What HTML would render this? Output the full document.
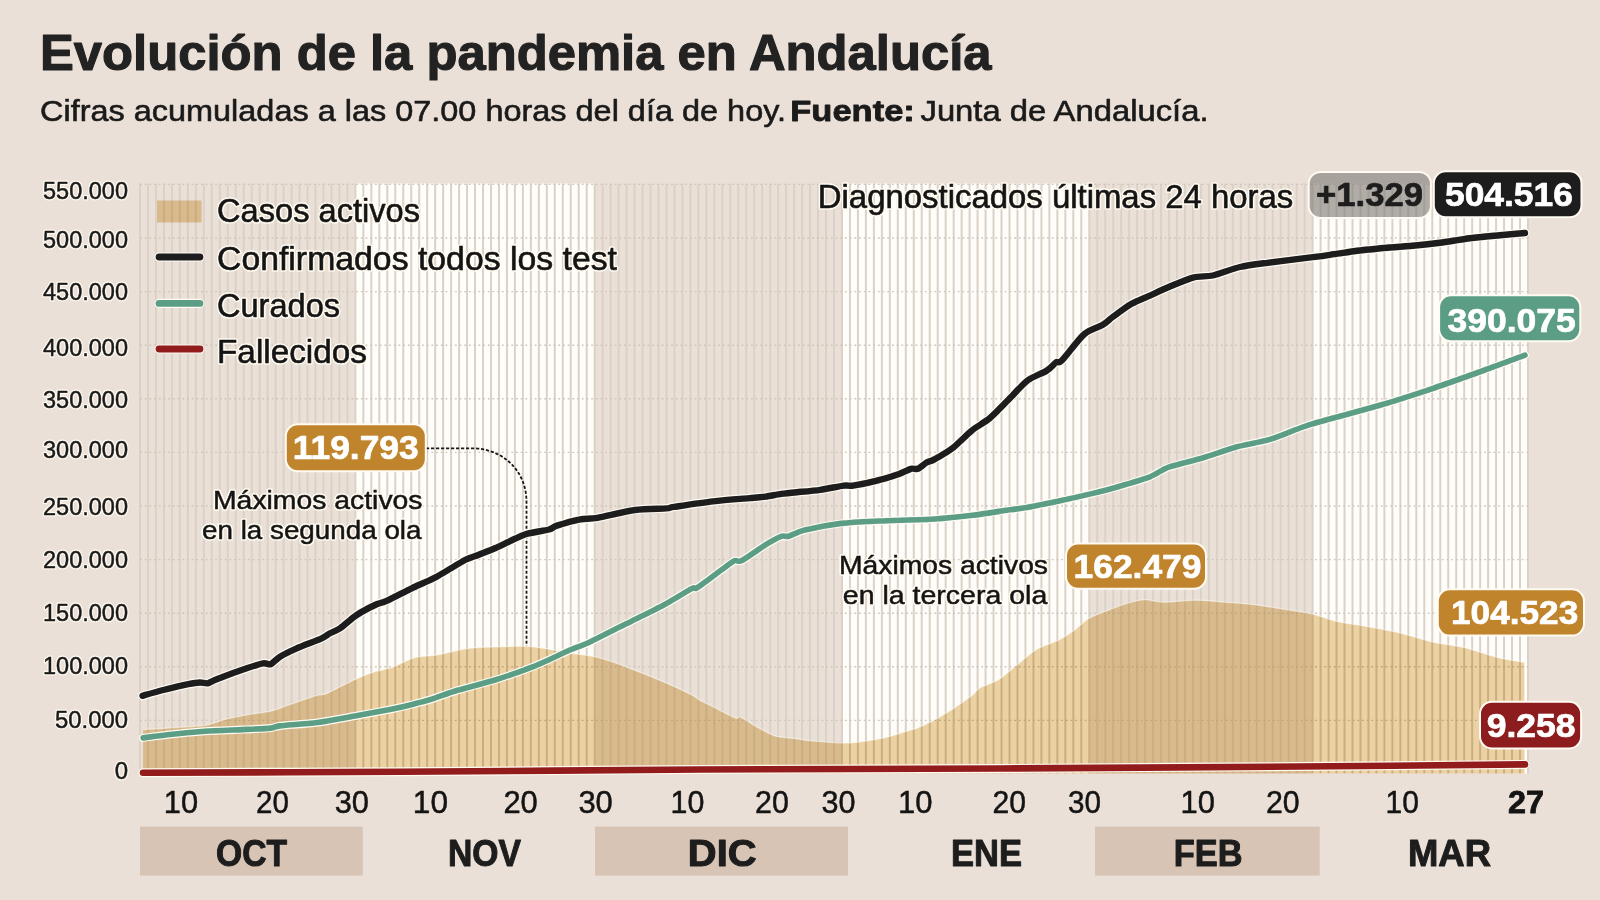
<!DOCTYPE html><html><head><meta charset="utf-8"><style>html,body{margin:0;padding:0;background:#eae0d7;width:1600px;height:900px;overflow:hidden}svg{display:block}text{font-family:"Liberation Sans", sans-serif}</style></head><body>
<svg width="1600" height="900" viewBox="0 0 1600 900">
<rect width="1600" height="900" fill="#eae0d7"/>
<text x="40.0" y="70.3" font-size="50.0" font-weight="bold" text-anchor="start" textLength="951.5" lengthAdjust="spacingAndGlyphs" fill="#222" stroke="#222" stroke-width="1.10" stroke-linejoin="round" >Evolución de la pandemia en Andalucía</text>
<text x="40.0" y="121.3" font-size="30.0" font-weight="normal" text-anchor="start" textLength="746.0" lengthAdjust="spacingAndGlyphs" fill="#1a1a1a" stroke="#1a1a1a" stroke-width="0.60" stroke-linejoin="round" >Cifras acumuladas a las 07.00 horas del día de hoy.</text>
<text x="790.3" y="121.3" font-size="30.0" font-weight="bold" text-anchor="start" textLength="124.5" lengthAdjust="spacingAndGlyphs" fill="#1a1a1a" stroke="#1a1a1a" stroke-width="0.80" stroke-linejoin="round" >Fuente:</text>
<text x="920.5" y="121.3" font-size="30.0" font-weight="normal" text-anchor="start" textLength="288.0" lengthAdjust="spacingAndGlyphs" fill="#1a1a1a" stroke="#1a1a1a" stroke-width="0.60" stroke-linejoin="round" >Junta de Andalucía.</text>
<rect x="140.0" y="183.5" width="1388.0" height="590.0" fill="#eae0d7"/>
<rect x="355.4" y="183.5" width="239.3" height="590.0" fill="#fefdf9"/>
<rect x="842.0" y="183.5" width="247.3" height="590.0" fill="#fefdf9"/>
<rect x="1312.6" y="183.5" width="215.4" height="590.0" fill="#fefdf9"/>
<path d="M140.00 183.5V773.5M147.98 183.5V773.5M155.95 183.5V773.5M163.93 183.5V773.5M171.91 183.5V773.5M179.89 183.5V773.5M187.86 183.5V773.5M195.84 183.5V773.5M203.82 183.5V773.5M211.79 183.5V773.5M219.77 183.5V773.5M227.75 183.5V773.5M235.72 183.5V773.5M243.70 183.5V773.5M251.68 183.5V773.5M259.66 183.5V773.5M267.63 183.5V773.5M275.61 183.5V773.5M283.59 183.5V773.5M291.56 183.5V773.5M299.54 183.5V773.5M307.52 183.5V773.5M315.49 183.5V773.5M323.47 183.5V773.5M331.45 183.5V773.5M339.43 183.5V773.5M347.40 183.5V773.5M355.38 183.5V773.5M363.36 183.5V773.5M371.33 183.5V773.5M379.31 183.5V773.5M387.29 183.5V773.5M395.26 183.5V773.5M403.24 183.5V773.5M411.22 183.5V773.5M419.20 183.5V773.5M427.17 183.5V773.5M435.15 183.5V773.5M443.13 183.5V773.5M451.10 183.5V773.5M459.08 183.5V773.5M467.06 183.5V773.5M475.03 183.5V773.5M483.01 183.5V773.5M490.99 183.5V773.5M498.97 183.5V773.5M506.94 183.5V773.5M514.92 183.5V773.5M522.90 183.5V773.5M530.87 183.5V773.5M538.85 183.5V773.5M546.83 183.5V773.5M554.80 183.5V773.5M562.78 183.5V773.5M570.76 183.5V773.5M578.74 183.5V773.5M586.71 183.5V773.5M594.69 183.5V773.5M602.67 183.5V773.5M610.64 183.5V773.5M618.62 183.5V773.5M626.60 183.5V773.5M634.57 183.5V773.5M642.55 183.5V773.5M650.53 183.5V773.5M658.51 183.5V773.5M666.48 183.5V773.5M674.46 183.5V773.5M682.44 183.5V773.5M690.41 183.5V773.5M698.39 183.5V773.5M706.37 183.5V773.5M714.34 183.5V773.5M722.32 183.5V773.5M730.30 183.5V773.5M738.28 183.5V773.5M746.25 183.5V773.5M754.23 183.5V773.5M762.21 183.5V773.5M770.18 183.5V773.5M778.16 183.5V773.5M786.14 183.5V773.5M794.11 183.5V773.5M802.09 183.5V773.5M810.07 183.5V773.5M818.05 183.5V773.5M826.02 183.5V773.5M834.00 183.5V773.5M841.98 183.5V773.5M849.95 183.5V773.5M857.93 183.5V773.5M865.91 183.5V773.5M873.89 183.5V773.5M881.86 183.5V773.5M889.84 183.5V773.5M897.82 183.5V773.5M905.79 183.5V773.5M913.77 183.5V773.5M921.75 183.5V773.5M929.72 183.5V773.5M937.70 183.5V773.5M945.68 183.5V773.5M953.66 183.5V773.5M961.63 183.5V773.5M969.61 183.5V773.5M977.59 183.5V773.5M985.56 183.5V773.5M993.54 183.5V773.5M1001.52 183.5V773.5M1009.49 183.5V773.5M1017.47 183.5V773.5M1025.45 183.5V773.5M1033.43 183.5V773.5M1041.40 183.5V773.5M1049.38 183.5V773.5M1057.36 183.5V773.5M1065.33 183.5V773.5M1073.31 183.5V773.5M1081.29 183.5V773.5M1089.26 183.5V773.5M1097.24 183.5V773.5M1105.22 183.5V773.5M1113.20 183.5V773.5M1121.17 183.5V773.5M1129.15 183.5V773.5M1137.13 183.5V773.5M1145.10 183.5V773.5M1153.08 183.5V773.5M1161.06 183.5V773.5M1169.03 183.5V773.5M1177.01 183.5V773.5M1184.99 183.5V773.5M1192.97 183.5V773.5M1200.94 183.5V773.5M1208.92 183.5V773.5M1216.90 183.5V773.5M1224.87 183.5V773.5M1232.85 183.5V773.5M1240.83 183.5V773.5M1248.80 183.5V773.5M1256.78 183.5V773.5M1264.76 183.5V773.5M1272.74 183.5V773.5M1280.71 183.5V773.5M1288.69 183.5V773.5M1296.67 183.5V773.5M1304.64 183.5V773.5M1312.62 183.5V773.5M1320.60 183.5V773.5M1328.57 183.5V773.5M1336.55 183.5V773.5M1344.53 183.5V773.5M1352.51 183.5V773.5M1360.48 183.5V773.5M1368.46 183.5V773.5M1376.44 183.5V773.5M1384.41 183.5V773.5M1392.39 183.5V773.5M1400.37 183.5V773.5M1408.34 183.5V773.5M1416.32 183.5V773.5M1424.30 183.5V773.5M1432.28 183.5V773.5M1440.25 183.5V773.5M1448.23 183.5V773.5M1456.21 183.5V773.5M1464.18 183.5V773.5M1472.16 183.5V773.5M1480.14 183.5V773.5M1488.11 183.5V773.5M1496.09 183.5V773.5M1504.07 183.5V773.5M1512.05 183.5V773.5M1520.02 183.5V773.5M1528.00 183.5V773.5" stroke="#dad2c7" stroke-width="2" fill="none"/>
<path d="M140.0 720.4H1528.0M140.0 666.8H1528.0M140.0 613.2H1528.0M140.0 559.6H1528.0M140.0 506.0H1528.0M140.0 452.4H1528.0M140.0 398.8H1528.0M140.0 345.2H1528.0M140.0 291.6H1528.0M140.0 238.0H1528.0M140.0 184.4H1528.0" stroke="#d0c6bb" stroke-width="1.4" stroke-dasharray="1.8 2.9" fill="none"/>
<path d="M143.1,729.6C146.4,729.4 159.2,728.7 167.5,728.1C175.8,727.5 197.5,726.4 205.0,725.3C212.5,724.2 217.5,721.2 223.8,719.7C230.0,718.2 245.7,715.1 251.9,714.0C258.1,712.9 265.6,712.5 270.6,711.2C275.6,710.0 283.1,706.8 289.4,704.7C295.7,702.6 312.5,696.8 317.5,695.3C322.5,693.8 321.9,695.5 326.9,693.4C331.9,691.3 348.8,682.3 355.0,679.4C361.2,676.5 368.8,673.5 373.8,671.9C378.8,670.3 387.5,669.0 392.5,667.2C397.5,665.4 407.6,660.2 411.2,658.8C414.9,657.3 416.3,657.1 420.0,656.6C423.7,656.1 432.0,655.8 438.8,654.7C445.5,653.6 459.8,649.2 470.6,648.1C481.4,647.0 510.6,646.4 519.4,646.2C528.2,646.1 528.8,646.2 536.2,647.2C543.7,648.2 567.4,652.4 575.6,653.8C583.8,655.1 591.3,655.7 598.1,657.5C604.9,659.3 617.5,663.6 626.2,666.9C635.0,670.2 655.0,678.2 663.8,681.9C672.5,685.6 687.1,692.5 691.9,695.0C696.7,697.5 696.9,698.6 700.0,700.3C703.1,702.0 710.3,705.4 715.0,707.8C719.7,710.2 732.3,716.9 735.6,718.1C738.9,719.3 738.1,716.4 739.4,716.6C740.7,716.8 742.8,718.3 745.0,719.6C747.2,720.9 752.2,724.4 756.2,726.6C760.2,728.8 770.0,734.3 775.0,735.9C780.0,737.5 788.8,737.7 793.8,738.4C798.8,739.1 807.5,740.5 812.5,741.0C817.5,741.5 826.2,742.2 831.2,742.5C836.2,742.8 845.0,743.2 850.0,742.9C855.0,742.6 863.8,741.4 868.8,740.6C873.8,739.8 882.5,738.1 887.5,736.9C892.5,735.7 902.2,732.5 906.2,731.2C910.2,730.0 913.7,729.4 917.5,727.9C921.3,726.4 929.7,722.6 934.4,720.0C939.1,717.4 948.1,712.0 953.1,708.8C958.1,705.5 968.3,698.4 971.9,695.6C975.5,692.8 976.4,690.0 980.0,687.8C983.6,685.6 993.8,682.5 998.8,679.4C1003.8,676.3 1012.5,668.4 1017.5,664.4C1022.5,660.4 1030.8,652.7 1036.2,649.4C1041.8,646.1 1053.8,642.5 1058.8,640.0C1063.8,637.5 1069.8,633.5 1073.8,630.6C1077.8,627.7 1083.8,621.3 1088.8,618.4C1093.8,615.5 1105.8,611.1 1111.2,609.0C1116.8,606.9 1125.5,603.7 1130.0,602.5C1134.5,601.3 1141.3,599.8 1145.0,599.7C1148.7,599.6 1155.1,601.3 1158.1,601.6C1161.1,601.9 1162.5,602.3 1167.5,602.1C1172.5,601.9 1188.1,600.2 1195.6,600.2C1203.1,600.2 1216.2,601.5 1223.8,602.1C1231.3,602.7 1245.7,603.7 1251.9,604.4C1258.1,605.1 1262.2,605.8 1270.0,607.0C1277.8,608.2 1301.9,611.7 1310.6,613.6C1319.3,615.5 1327.4,619.2 1335.0,620.9C1342.6,622.6 1358.8,625.0 1367.5,626.6C1376.2,628.2 1391.3,630.9 1400.0,633.0C1408.7,635.1 1423.8,640.0 1432.5,642.0C1441.2,644.0 1456.3,645.6 1465.0,647.7C1473.7,649.8 1489.6,655.5 1497.5,657.4C1505.4,659.3 1520.7,661.6 1524.3,662.3 L1524.5,773.5 L143.0,773.5 Z" fill="#edd4a6" style="mix-blend-mode:multiply"/>
<path d="M143.1,729.6C146.4,729.4 159.2,728.7 167.5,728.1C175.8,727.5 197.5,726.4 205.0,725.3C212.5,724.2 217.5,721.2 223.8,719.7C230.0,718.2 245.7,715.1 251.9,714.0C258.1,712.9 265.6,712.5 270.6,711.2C275.6,710.0 283.1,706.8 289.4,704.7C295.7,702.6 312.5,696.8 317.5,695.3C322.5,693.8 321.9,695.5 326.9,693.4C331.9,691.3 348.8,682.3 355.0,679.4C361.2,676.5 368.8,673.5 373.8,671.9C378.8,670.3 387.5,669.0 392.5,667.2C397.5,665.4 407.6,660.2 411.2,658.8C414.9,657.3 416.3,657.1 420.0,656.6C423.7,656.1 432.0,655.8 438.8,654.7C445.5,653.6 459.8,649.2 470.6,648.1C481.4,647.0 510.6,646.4 519.4,646.2C528.2,646.1 528.8,646.2 536.2,647.2C543.7,648.2 567.4,652.4 575.6,653.8C583.8,655.1 591.3,655.7 598.1,657.5C604.9,659.3 617.5,663.6 626.2,666.9C635.0,670.2 655.0,678.2 663.8,681.9C672.5,685.6 687.1,692.5 691.9,695.0C696.7,697.5 696.9,698.6 700.0,700.3C703.1,702.0 710.3,705.4 715.0,707.8C719.7,710.2 732.3,716.9 735.6,718.1C738.9,719.3 738.1,716.4 739.4,716.6C740.7,716.8 742.8,718.3 745.0,719.6C747.2,720.9 752.2,724.4 756.2,726.6C760.2,728.8 770.0,734.3 775.0,735.9C780.0,737.5 788.8,737.7 793.8,738.4C798.8,739.1 807.5,740.5 812.5,741.0C817.5,741.5 826.2,742.2 831.2,742.5C836.2,742.8 845.0,743.2 850.0,742.9C855.0,742.6 863.8,741.4 868.8,740.6C873.8,739.8 882.5,738.1 887.5,736.9C892.5,735.7 902.2,732.5 906.2,731.2C910.2,730.0 913.7,729.4 917.5,727.9C921.3,726.4 929.7,722.6 934.4,720.0C939.1,717.4 948.1,712.0 953.1,708.8C958.1,705.5 968.3,698.4 971.9,695.6C975.5,692.8 976.4,690.0 980.0,687.8C983.6,685.6 993.8,682.5 998.8,679.4C1003.8,676.3 1012.5,668.4 1017.5,664.4C1022.5,660.4 1030.8,652.7 1036.2,649.4C1041.8,646.1 1053.8,642.5 1058.8,640.0C1063.8,637.5 1069.8,633.5 1073.8,630.6C1077.8,627.7 1083.8,621.3 1088.8,618.4C1093.8,615.5 1105.8,611.1 1111.2,609.0C1116.8,606.9 1125.5,603.7 1130.0,602.5C1134.5,601.3 1141.3,599.8 1145.0,599.7C1148.7,599.6 1155.1,601.3 1158.1,601.6C1161.1,601.9 1162.5,602.3 1167.5,602.1C1172.5,601.9 1188.1,600.2 1195.6,600.2C1203.1,600.2 1216.2,601.5 1223.8,602.1C1231.3,602.7 1245.7,603.7 1251.9,604.4C1258.1,605.1 1262.2,605.8 1270.0,607.0C1277.8,608.2 1301.9,611.7 1310.6,613.6C1319.3,615.5 1327.4,619.2 1335.0,620.9C1342.6,622.6 1358.8,625.0 1367.5,626.6C1376.2,628.2 1391.3,630.9 1400.0,633.0C1408.7,635.1 1423.8,640.0 1432.5,642.0C1441.2,644.0 1456.3,645.6 1465.0,647.7C1473.7,649.8 1489.6,655.5 1497.5,657.4C1505.4,659.3 1520.7,661.6 1524.3,662.3" fill="none" stroke="#fff" stroke-opacity="0.5" stroke-width="1.2"/>
<path d="M426 448.3H472 C502 448.3 526.5 470 526.5 502 V646" fill="none" stroke="#1a1a1a" stroke-width="1.8" stroke-dasharray="3.2 1.8"/>
<path d="M143.0,772.7C177.3,772.6 325.7,772.2 400.0,771.8C474.3,771.4 620.0,769.9 700.0,769.5C780.0,769.1 920.0,768.9 1000.0,768.5C1080.0,768.1 1230.0,767.0 1300.0,766.5C1370.0,766.0 1495.0,764.7 1525.0,764.4" fill="none" stroke="#fffaf2" stroke-width="9.0" stroke-linecap="round" stroke-linejoin="round"/>
<path d="M143.0,772.7C177.3,772.6 325.7,772.2 400.0,771.8C474.3,771.4 620.0,769.9 700.0,769.5C780.0,769.1 920.0,768.9 1000.0,768.5C1080.0,768.1 1230.0,767.0 1300.0,766.5C1370.0,766.0 1495.0,764.7 1525.0,764.4" fill="none" stroke="#921b1c" stroke-width="6.6" stroke-linecap="round" stroke-linejoin="round"/>
<path d="M143.1,737.9C146.4,737.5 159.2,735.6 167.5,734.7C175.8,733.8 195.0,732.0 205.0,731.3C215.0,730.6 233.8,730.0 242.5,729.6C251.2,729.2 265.6,728.6 270.6,728.1C275.6,727.6 273.7,726.6 280.0,725.9C286.3,725.2 307.5,723.8 317.5,722.5C327.5,721.2 345.0,717.8 355.0,716.0C365.0,714.2 385.0,710.5 392.5,709.0C400.0,707.5 406.2,706.0 411.2,704.7C416.2,703.4 423.8,701.5 430.0,699.6C436.2,697.7 448.8,692.9 457.5,690.3C466.2,687.7 485.0,683.1 495.0,680.0C505.0,676.9 522.5,670.9 532.5,666.9C542.5,662.9 562.5,653.3 570.0,650.0C577.5,646.7 581.2,646.0 588.8,642.5C596.2,639.0 616.2,628.8 626.2,623.8C636.2,618.8 655.0,609.7 663.8,605.0C672.5,600.3 687.5,590.9 691.9,588.6C696.3,586.3 693.3,590.1 697.0,587.8C700.7,585.5 715.0,574.6 720.0,571.0C725.0,567.4 731.5,562.2 734.4,560.8C737.3,559.4 737.7,562.8 741.9,560.6C746.1,558.4 761.0,547.6 766.2,544.4C771.5,541.2 778.2,537.5 781.2,536.4C784.2,535.3 785.8,537.0 788.8,536.2C791.8,535.4 796.8,532.0 803.8,530.3C810.8,528.6 831.2,524.6 841.2,523.4C851.2,522.2 866.2,521.6 878.8,521.0C891.2,520.4 922.5,519.8 935.0,519.0C947.5,518.2 962.5,516.5 972.5,515.3C982.5,514.1 1003.0,510.7 1010.0,509.7C1017.0,508.7 1018.8,508.9 1025.3,507.8C1031.8,506.6 1050.0,502.9 1059.0,501.0C1068.0,499.1 1084.9,495.3 1092.8,493.4C1100.7,491.5 1110.7,488.8 1118.1,486.7C1125.5,484.6 1141.7,480.0 1148.5,477.4C1155.3,474.8 1161.5,469.8 1168.8,467.2C1176.0,464.7 1193.5,460.7 1202.5,458.0C1211.5,455.3 1227.2,449.5 1236.2,447.0C1245.2,444.5 1260.1,442.4 1270.0,439.4C1279.9,436.4 1296.2,428.9 1310.6,424.4C1325.0,419.9 1362.3,410.4 1378.1,405.8C1393.9,401.2 1415.2,394.3 1428.8,389.8C1442.3,385.3 1466.6,376.6 1479.4,372.0C1492.2,367.4 1518.9,357.4 1525.0,355.2" fill="none" stroke="#fffaf2" stroke-width="8.0" stroke-linecap="round" stroke-linejoin="round"/>
<path d="M143.1,737.9C146.4,737.5 159.2,735.6 167.5,734.7C175.8,733.8 195.0,732.0 205.0,731.3C215.0,730.6 233.8,730.0 242.5,729.6C251.2,729.2 265.6,728.6 270.6,728.1C275.6,727.6 273.7,726.6 280.0,725.9C286.3,725.2 307.5,723.8 317.5,722.5C327.5,721.2 345.0,717.8 355.0,716.0C365.0,714.2 385.0,710.5 392.5,709.0C400.0,707.5 406.2,706.0 411.2,704.7C416.2,703.4 423.8,701.5 430.0,699.6C436.2,697.7 448.8,692.9 457.5,690.3C466.2,687.7 485.0,683.1 495.0,680.0C505.0,676.9 522.5,670.9 532.5,666.9C542.5,662.9 562.5,653.3 570.0,650.0C577.5,646.7 581.2,646.0 588.8,642.5C596.2,639.0 616.2,628.8 626.2,623.8C636.2,618.8 655.0,609.7 663.8,605.0C672.5,600.3 687.5,590.9 691.9,588.6C696.3,586.3 693.3,590.1 697.0,587.8C700.7,585.5 715.0,574.6 720.0,571.0C725.0,567.4 731.5,562.2 734.4,560.8C737.3,559.4 737.7,562.8 741.9,560.6C746.1,558.4 761.0,547.6 766.2,544.4C771.5,541.2 778.2,537.5 781.2,536.4C784.2,535.3 785.8,537.0 788.8,536.2C791.8,535.4 796.8,532.0 803.8,530.3C810.8,528.6 831.2,524.6 841.2,523.4C851.2,522.2 866.2,521.6 878.8,521.0C891.2,520.4 922.5,519.8 935.0,519.0C947.5,518.2 962.5,516.5 972.5,515.3C982.5,514.1 1003.0,510.7 1010.0,509.7C1017.0,508.7 1018.8,508.9 1025.3,507.8C1031.8,506.6 1050.0,502.9 1059.0,501.0C1068.0,499.1 1084.9,495.3 1092.8,493.4C1100.7,491.5 1110.7,488.8 1118.1,486.7C1125.5,484.6 1141.7,480.0 1148.5,477.4C1155.3,474.8 1161.5,469.8 1168.8,467.2C1176.0,464.7 1193.5,460.7 1202.5,458.0C1211.5,455.3 1227.2,449.5 1236.2,447.0C1245.2,444.5 1260.1,442.4 1270.0,439.4C1279.9,436.4 1296.2,428.9 1310.6,424.4C1325.0,419.9 1362.3,410.4 1378.1,405.8C1393.9,401.2 1415.2,394.3 1428.8,389.8C1442.3,385.3 1466.6,376.6 1479.4,372.0C1492.2,367.4 1518.9,357.4 1525.0,355.2" fill="none" stroke="#5b9e85" stroke-width="5.6" stroke-linecap="round" stroke-linejoin="round"/>
<path d="M142.5,695.8C145.3,695.0 157.2,691.5 163.3,690.0C169.4,688.5 183.4,685.2 188.3,684.2C193.2,683.2 197.4,682.6 200.0,682.5C202.6,682.4 205.3,683.7 207.5,683.3C209.7,682.9 211.5,681.2 216.7,679.2C221.9,677.2 240.5,670.4 246.7,668.3C252.9,666.2 260.1,663.8 263.3,663.3C266.5,662.8 268.6,665.1 270.8,664.2C273.0,663.3 276.5,658.8 280.0,656.7C283.5,654.6 291.1,650.8 296.7,648.3C302.3,645.8 317.3,640.3 321.7,638.3C326.1,636.3 327.6,634.6 330.0,633.3C332.4,632.0 336.4,630.7 340.0,628.3C343.6,625.9 352.0,618.1 356.7,615.0C361.4,611.9 371.0,606.9 375.0,605.0C379.0,603.1 381.8,603.0 386.7,600.8C391.6,598.6 405.0,591.5 411.7,588.3C418.4,585.1 429.6,580.5 436.7,576.7C443.8,572.9 459.5,562.9 465.0,560.0C470.5,557.1 474.3,556.6 478.3,555.0C482.3,553.4 490.8,550.1 495.0,548.3C499.2,546.5 505.9,543.1 510.0,541.2C514.1,539.4 520.4,535.8 525.6,534.2C530.8,532.6 544.8,530.6 549.0,529.5C553.2,528.4 552.7,526.9 556.9,525.6C561.1,524.3 574.9,520.4 580.3,519.4C585.7,518.4 590.2,519.1 597.5,517.8C604.8,516.5 625.8,511.3 635.0,510.0C644.2,508.7 661.1,508.8 666.3,508.4C671.5,508.0 667.8,507.8 674.0,506.9C680.2,506.0 702.9,502.6 713.0,501.4C723.1,500.2 743.0,498.7 750.0,498.1C757.0,497.5 761.4,497.2 765.6,496.6C769.8,496.0 777.1,494.5 781.3,493.9C785.5,493.3 791.7,492.7 796.9,492.2C802.1,491.7 814.1,490.7 820.3,489.8C826.5,488.9 839.4,486.2 843.8,485.6C848.1,485.0 848.9,486.2 853.1,485.6C857.3,485.0 869.0,482.8 875.0,481.2C881.0,479.7 893.6,475.9 898.4,474.2C903.2,472.5 908.3,469.5 910.9,468.8C913.5,468.0 915.9,469.6 918.0,468.8C920.1,467.9 924.4,463.7 926.6,462.5C928.8,461.3 930.9,461.4 934.4,459.4C937.9,457.4 948.1,451.6 953.1,447.7C958.1,443.8 967.0,434.5 971.9,430.5C976.8,426.5 985.1,422.2 990.0,418.0C994.9,413.8 1003.9,404.2 1008.9,399.2C1013.9,394.2 1022.8,384.1 1027.8,380.3C1032.8,376.5 1042.8,373.2 1046.6,370.8C1050.4,368.4 1054.1,363.7 1056.1,362.3C1058.1,360.9 1058.0,364.3 1061.8,360.5C1065.5,356.7 1078.9,338.8 1084.4,334.0C1089.9,329.2 1099.5,326.9 1103.3,324.6C1107.1,322.3 1108.9,319.8 1112.7,317.0C1116.5,314.2 1126.6,306.7 1131.6,303.8C1136.6,300.9 1145.5,297.6 1150.5,295.3C1155.5,293.0 1163.6,289.2 1169.4,286.8C1175.2,284.4 1188.1,278.9 1193.9,277.4C1199.7,275.9 1206.7,276.9 1212.8,275.5C1218.9,274.1 1232.7,268.7 1240.0,267.0C1247.3,265.3 1257.5,264.1 1267.5,262.8C1277.5,261.5 1306.2,258.0 1315.0,256.9C1323.8,255.8 1327.8,255.1 1333.8,254.2C1339.8,253.4 1352.5,251.4 1360.0,250.5C1367.5,249.6 1383.3,248.1 1390.0,247.5C1396.7,246.9 1403.3,246.6 1410.0,246.0C1416.7,245.4 1432.0,243.8 1440.0,242.8C1448.0,241.7 1462.0,239.2 1470.0,238.2C1478.0,237.2 1492.7,235.9 1500.0,235.2C1507.3,234.6 1521.7,233.3 1525.0,233.0" fill="none" stroke="#fffaf2" stroke-width="8.8" stroke-linecap="round" stroke-linejoin="round"/>
<path d="M142.5,695.8C145.3,695.0 157.2,691.5 163.3,690.0C169.4,688.5 183.4,685.2 188.3,684.2C193.2,683.2 197.4,682.6 200.0,682.5C202.6,682.4 205.3,683.7 207.5,683.3C209.7,682.9 211.5,681.2 216.7,679.2C221.9,677.2 240.5,670.4 246.7,668.3C252.9,666.2 260.1,663.8 263.3,663.3C266.5,662.8 268.6,665.1 270.8,664.2C273.0,663.3 276.5,658.8 280.0,656.7C283.5,654.6 291.1,650.8 296.7,648.3C302.3,645.8 317.3,640.3 321.7,638.3C326.1,636.3 327.6,634.6 330.0,633.3C332.4,632.0 336.4,630.7 340.0,628.3C343.6,625.9 352.0,618.1 356.7,615.0C361.4,611.9 371.0,606.9 375.0,605.0C379.0,603.1 381.8,603.0 386.7,600.8C391.6,598.6 405.0,591.5 411.7,588.3C418.4,585.1 429.6,580.5 436.7,576.7C443.8,572.9 459.5,562.9 465.0,560.0C470.5,557.1 474.3,556.6 478.3,555.0C482.3,553.4 490.8,550.1 495.0,548.3C499.2,546.5 505.9,543.1 510.0,541.2C514.1,539.4 520.4,535.8 525.6,534.2C530.8,532.6 544.8,530.6 549.0,529.5C553.2,528.4 552.7,526.9 556.9,525.6C561.1,524.3 574.9,520.4 580.3,519.4C585.7,518.4 590.2,519.1 597.5,517.8C604.8,516.5 625.8,511.3 635.0,510.0C644.2,508.7 661.1,508.8 666.3,508.4C671.5,508.0 667.8,507.8 674.0,506.9C680.2,506.0 702.9,502.6 713.0,501.4C723.1,500.2 743.0,498.7 750.0,498.1C757.0,497.5 761.4,497.2 765.6,496.6C769.8,496.0 777.1,494.5 781.3,493.9C785.5,493.3 791.7,492.7 796.9,492.2C802.1,491.7 814.1,490.7 820.3,489.8C826.5,488.9 839.4,486.2 843.8,485.6C848.1,485.0 848.9,486.2 853.1,485.6C857.3,485.0 869.0,482.8 875.0,481.2C881.0,479.7 893.6,475.9 898.4,474.2C903.2,472.5 908.3,469.5 910.9,468.8C913.5,468.0 915.9,469.6 918.0,468.8C920.1,467.9 924.4,463.7 926.6,462.5C928.8,461.3 930.9,461.4 934.4,459.4C937.9,457.4 948.1,451.6 953.1,447.7C958.1,443.8 967.0,434.5 971.9,430.5C976.8,426.5 985.1,422.2 990.0,418.0C994.9,413.8 1003.9,404.2 1008.9,399.2C1013.9,394.2 1022.8,384.1 1027.8,380.3C1032.8,376.5 1042.8,373.2 1046.6,370.8C1050.4,368.4 1054.1,363.7 1056.1,362.3C1058.1,360.9 1058.0,364.3 1061.8,360.5C1065.5,356.7 1078.9,338.8 1084.4,334.0C1089.9,329.2 1099.5,326.9 1103.3,324.6C1107.1,322.3 1108.9,319.8 1112.7,317.0C1116.5,314.2 1126.6,306.7 1131.6,303.8C1136.6,300.9 1145.5,297.6 1150.5,295.3C1155.5,293.0 1163.6,289.2 1169.4,286.8C1175.2,284.4 1188.1,278.9 1193.9,277.4C1199.7,275.9 1206.7,276.9 1212.8,275.5C1218.9,274.1 1232.7,268.7 1240.0,267.0C1247.3,265.3 1257.5,264.1 1267.5,262.8C1277.5,261.5 1306.2,258.0 1315.0,256.9C1323.8,255.8 1327.8,255.1 1333.8,254.2C1339.8,253.4 1352.5,251.4 1360.0,250.5C1367.5,249.6 1383.3,248.1 1390.0,247.5C1396.7,246.9 1403.3,246.6 1410.0,246.0C1416.7,245.4 1432.0,243.8 1440.0,242.8C1448.0,241.7 1462.0,239.2 1470.0,238.2C1478.0,237.2 1492.7,235.9 1500.0,235.2C1507.3,234.6 1521.7,233.3 1525.0,233.0" fill="none" stroke="#1d1d1d" stroke-width="6.4" stroke-linecap="round" stroke-linejoin="round"/>
<text x="128.0" y="199.2" font-size="24.0" font-weight="normal" text-anchor="end" textLength="85.0" lengthAdjust="spacingAndGlyphs" fill="#fffaf0" stroke="#fffaf0" stroke-width="3.0" stroke-linejoin="round" >550.000</text><text x="128.0" y="199.2" font-size="24.0" font-weight="normal" text-anchor="end" textLength="85.0" lengthAdjust="spacingAndGlyphs" fill="#1a1a1a" stroke="#1a1a1a" stroke-width="0.50" stroke-linejoin="round" >550.000</text>
<text x="128.0" y="248.2" font-size="24.0" font-weight="normal" text-anchor="end" textLength="85.0" lengthAdjust="spacingAndGlyphs" fill="#fffaf0" stroke="#fffaf0" stroke-width="3.0" stroke-linejoin="round" >500.000</text><text x="128.0" y="248.2" font-size="24.0" font-weight="normal" text-anchor="end" textLength="85.0" lengthAdjust="spacingAndGlyphs" fill="#1a1a1a" stroke="#1a1a1a" stroke-width="0.50" stroke-linejoin="round" >500.000</text>
<text x="128.0" y="299.9" font-size="24.0" font-weight="normal" text-anchor="end" textLength="85.0" lengthAdjust="spacingAndGlyphs" fill="#fffaf0" stroke="#fffaf0" stroke-width="3.0" stroke-linejoin="round" >450.000</text><text x="128.0" y="299.9" font-size="24.0" font-weight="normal" text-anchor="end" textLength="85.0" lengthAdjust="spacingAndGlyphs" fill="#1a1a1a" stroke="#1a1a1a" stroke-width="0.50" stroke-linejoin="round" >450.000</text>
<text x="128.0" y="355.7" font-size="24.0" font-weight="normal" text-anchor="end" textLength="85.0" lengthAdjust="spacingAndGlyphs" fill="#fffaf0" stroke="#fffaf0" stroke-width="3.0" stroke-linejoin="round" >400.000</text><text x="128.0" y="355.7" font-size="24.0" font-weight="normal" text-anchor="end" textLength="85.0" lengthAdjust="spacingAndGlyphs" fill="#1a1a1a" stroke="#1a1a1a" stroke-width="0.50" stroke-linejoin="round" >400.000</text>
<text x="128.0" y="407.9" font-size="24.0" font-weight="normal" text-anchor="end" textLength="85.0" lengthAdjust="spacingAndGlyphs" fill="#fffaf0" stroke="#fffaf0" stroke-width="3.0" stroke-linejoin="round" >350.000</text><text x="128.0" y="407.9" font-size="24.0" font-weight="normal" text-anchor="end" textLength="85.0" lengthAdjust="spacingAndGlyphs" fill="#1a1a1a" stroke="#1a1a1a" stroke-width="0.50" stroke-linejoin="round" >350.000</text>
<text x="128.0" y="458.4" font-size="24.0" font-weight="normal" text-anchor="end" textLength="85.0" lengthAdjust="spacingAndGlyphs" fill="#fffaf0" stroke="#fffaf0" stroke-width="3.0" stroke-linejoin="round" >300.000</text><text x="128.0" y="458.4" font-size="24.0" font-weight="normal" text-anchor="end" textLength="85.0" lengthAdjust="spacingAndGlyphs" fill="#1a1a1a" stroke="#1a1a1a" stroke-width="0.50" stroke-linejoin="round" >300.000</text>
<text x="128.0" y="514.5" font-size="24.0" font-weight="normal" text-anchor="end" textLength="85.0" lengthAdjust="spacingAndGlyphs" fill="#fffaf0" stroke="#fffaf0" stroke-width="3.0" stroke-linejoin="round" >250.000</text><text x="128.0" y="514.5" font-size="24.0" font-weight="normal" text-anchor="end" textLength="85.0" lengthAdjust="spacingAndGlyphs" fill="#1a1a1a" stroke="#1a1a1a" stroke-width="0.50" stroke-linejoin="round" >250.000</text>
<text x="128.0" y="567.9" font-size="24.0" font-weight="normal" text-anchor="end" textLength="85.0" lengthAdjust="spacingAndGlyphs" fill="#fffaf0" stroke="#fffaf0" stroke-width="3.0" stroke-linejoin="round" >200.000</text><text x="128.0" y="567.9" font-size="24.0" font-weight="normal" text-anchor="end" textLength="85.0" lengthAdjust="spacingAndGlyphs" fill="#1a1a1a" stroke="#1a1a1a" stroke-width="0.50" stroke-linejoin="round" >200.000</text>
<text x="128.0" y="621.2" font-size="24.0" font-weight="normal" text-anchor="end" textLength="85.0" lengthAdjust="spacingAndGlyphs" fill="#fffaf0" stroke="#fffaf0" stroke-width="3.0" stroke-linejoin="round" >150.000</text><text x="128.0" y="621.2" font-size="24.0" font-weight="normal" text-anchor="end" textLength="85.0" lengthAdjust="spacingAndGlyphs" fill="#1a1a1a" stroke="#1a1a1a" stroke-width="0.50" stroke-linejoin="round" >150.000</text>
<text x="128.0" y="674.0" font-size="24.0" font-weight="normal" text-anchor="end" textLength="85.0" lengthAdjust="spacingAndGlyphs" fill="#fffaf0" stroke="#fffaf0" stroke-width="3.0" stroke-linejoin="round" >100.000</text><text x="128.0" y="674.0" font-size="24.0" font-weight="normal" text-anchor="end" textLength="85.0" lengthAdjust="spacingAndGlyphs" fill="#1a1a1a" stroke="#1a1a1a" stroke-width="0.50" stroke-linejoin="round" >100.000</text>
<text x="128.0" y="728.1" font-size="24.0" font-weight="normal" text-anchor="end" textLength="73.0" lengthAdjust="spacingAndGlyphs" fill="#fffaf0" stroke="#fffaf0" stroke-width="3.0" stroke-linejoin="round" >50.000</text><text x="128.0" y="728.1" font-size="24.0" font-weight="normal" text-anchor="end" textLength="73.0" lengthAdjust="spacingAndGlyphs" fill="#1a1a1a" stroke="#1a1a1a" stroke-width="0.50" stroke-linejoin="round" >50.000</text>
<text x="128.0" y="778.7" font-size="24.0" font-weight="normal" text-anchor="end" fill="#fffaf0" stroke="#fffaf0" stroke-width="3.0" stroke-linejoin="round" >0</text><text x="128.0" y="778.7" font-size="24.0" font-weight="normal" text-anchor="end" fill="#1a1a1a" stroke="#1a1a1a" stroke-width="0.50" stroke-linejoin="round" >0</text>
<rect x="157" y="200.5" width="44.5" height="22" fill="#edd4a6" style="mix-blend-mode:multiply"/>
<line x1="159" y1="257.0" x2="200" y2="257.0" stroke="#fffaf2" stroke-width="9.2" stroke-linecap="round"/>
<line x1="159" y1="257.0" x2="200" y2="257.0" stroke="#1d1d1d" stroke-width="6.8" stroke-linecap="round"/>
<line x1="159" y1="303.4" x2="200" y2="303.4" stroke="#fffaf2" stroke-width="9.2" stroke-linecap="round"/>
<line x1="159" y1="303.4" x2="200" y2="303.4" stroke="#5b9e85" stroke-width="6.8" stroke-linecap="round"/>
<line x1="159" y1="349.0" x2="200" y2="349.0" stroke="#fffaf2" stroke-width="9.2" stroke-linecap="round"/>
<line x1="159" y1="349.0" x2="200" y2="349.0" stroke="#921b1c" stroke-width="6.8" stroke-linecap="round"/>
<text x="217.0" y="222.2" font-size="33.0" font-weight="normal" text-anchor="start" textLength="203.0" lengthAdjust="spacingAndGlyphs" fill="#fffaf0" stroke="#fffaf0" stroke-width="3.6" stroke-linejoin="round" >Casos activos</text><text x="217.0" y="222.2" font-size="33.0" font-weight="normal" text-anchor="start" textLength="203.0" lengthAdjust="spacingAndGlyphs" fill="#141414" stroke="#141414" stroke-width="0.60" stroke-linejoin="round" >Casos activos</text>
<text x="217.0" y="270.2" font-size="33.0" font-weight="normal" text-anchor="start" textLength="400.0" lengthAdjust="spacingAndGlyphs" fill="#fffaf0" stroke="#fffaf0" stroke-width="3.6" stroke-linejoin="round" >Confirmados todos los test</text><text x="217.0" y="270.2" font-size="33.0" font-weight="normal" text-anchor="start" textLength="400.0" lengthAdjust="spacingAndGlyphs" fill="#141414" stroke="#141414" stroke-width="0.60" stroke-linejoin="round" >Confirmados todos los test</text>
<text x="217.0" y="317.3" font-size="33.0" font-weight="normal" text-anchor="start" textLength="123.0" lengthAdjust="spacingAndGlyphs" fill="#fffaf0" stroke="#fffaf0" stroke-width="3.6" stroke-linejoin="round" >Curados</text><text x="217.0" y="317.3" font-size="33.0" font-weight="normal" text-anchor="start" textLength="123.0" lengthAdjust="spacingAndGlyphs" fill="#141414" stroke="#141414" stroke-width="0.60" stroke-linejoin="round" >Curados</text>
<text x="217.0" y="362.8" font-size="33.0" font-weight="normal" text-anchor="start" textLength="150.0" lengthAdjust="spacingAndGlyphs" fill="#fffaf0" stroke="#fffaf0" stroke-width="3.6" stroke-linejoin="round" >Fallecidos</text><text x="217.0" y="362.8" font-size="33.0" font-weight="normal" text-anchor="start" textLength="150.0" lengthAdjust="spacingAndGlyphs" fill="#141414" stroke="#141414" stroke-width="0.60" stroke-linejoin="round" >Fallecidos</text>
<text x="422.5" y="509.3" font-size="26.5" font-weight="normal" text-anchor="end" textLength="209.5" lengthAdjust="spacingAndGlyphs" fill="#fffaf0" stroke="#fffaf0" stroke-width="3.5" stroke-linejoin="round" >Máximos activos</text><text x="422.5" y="509.3" font-size="26.5" font-weight="normal" text-anchor="end" textLength="209.5" lengthAdjust="spacingAndGlyphs" fill="#141414" stroke="#141414" stroke-width="0.50" stroke-linejoin="round" >Máximos activos</text>
<text x="421.5" y="539.3" font-size="26.5" font-weight="normal" text-anchor="end" textLength="219.5" lengthAdjust="spacingAndGlyphs" fill="#fffaf0" stroke="#fffaf0" stroke-width="3.5" stroke-linejoin="round" >en la segunda ola</text><text x="421.5" y="539.3" font-size="26.5" font-weight="normal" text-anchor="end" textLength="219.5" lengthAdjust="spacingAndGlyphs" fill="#141414" stroke="#141414" stroke-width="0.50" stroke-linejoin="round" >en la segunda ola</text>
<text x="839.0" y="573.8" font-size="26.5" font-weight="normal" text-anchor="start" textLength="209.0" lengthAdjust="spacingAndGlyphs" fill="#fffaf0" stroke="#fffaf0" stroke-width="3.5" stroke-linejoin="round" >Máximos activos</text><text x="839.0" y="573.8" font-size="26.5" font-weight="normal" text-anchor="start" textLength="209.0" lengthAdjust="spacingAndGlyphs" fill="#141414" stroke="#141414" stroke-width="0.50" stroke-linejoin="round" >Máximos activos</text>
<text x="842.8" y="604.0" font-size="26.5" font-weight="normal" text-anchor="start" textLength="204.5" lengthAdjust="spacingAndGlyphs" fill="#fffaf0" stroke="#fffaf0" stroke-width="3.5" stroke-linejoin="round" >en la tercera ola</text><text x="842.8" y="604.0" font-size="26.5" font-weight="normal" text-anchor="start" textLength="204.5" lengthAdjust="spacingAndGlyphs" fill="#141414" stroke="#141414" stroke-width="0.50" stroke-linejoin="round" >en la tercera ola</text>
<text x="817.8" y="207.8" font-size="32.5" font-weight="normal" text-anchor="start" textLength="475.5" lengthAdjust="spacingAndGlyphs" fill="#fffaf0" stroke="#fffaf0" stroke-width="3.6" stroke-linejoin="round" >Diagnosticados últimas 24 horas</text><text x="817.8" y="207.8" font-size="32.5" font-weight="normal" text-anchor="start" textLength="475.5" lengthAdjust="spacingAndGlyphs" fill="#141414" stroke="#141414" stroke-width="0.60" stroke-linejoin="round" >Diagnosticados últimas 24 horas</text>
<rect x="285.8" y="424.2" width="140.0" height="47.1" rx="12" ry="12" fill="#c0852c" fill-opacity="1.00" stroke="#fffaf2" stroke-width="2"/>
<text x="292.8" y="459.2" font-size="34.0" font-weight="bold" text-anchor="start" textLength="125.8" lengthAdjust="spacingAndGlyphs" fill="#fff" stroke="#fff" stroke-width="0.70" stroke-linejoin="round" >119.793</text>
<rect x="1308.7" y="171.9" width="122.2" height="46.0" rx="12" ry="12" fill="#8a8580" fill-opacity="0.68" stroke="#fffaf2" stroke-width="2"/>
<text x="1316.0" y="205.8" font-size="34.0" font-weight="bold" text-anchor="start" textLength="107.0" lengthAdjust="spacingAndGlyphs" fill="#1d1d1d" stroke="#1d1d1d" stroke-width="0.70" stroke-linejoin="round" >+1.329</text>
<rect x="1433.8" y="171.3" width="147.7" height="45.9" rx="12" ry="12" fill="#1d1d1d" fill-opacity="1.00" stroke="#fffaf2" stroke-width="2"/>
<text x="1445.0" y="205.8" font-size="34.0" font-weight="bold" text-anchor="start" textLength="127.8" lengthAdjust="spacingAndGlyphs" fill="#fff" stroke="#fff" stroke-width="0.70" stroke-linejoin="round" >504.516</text>
<rect x="1439.1" y="295.2" width="141.2" height="46.1" rx="12" ry="12" fill="#5b9e85" fill-opacity="1.00" stroke="#fffaf2" stroke-width="2"/>
<text x="1447.6" y="332.0" font-size="34.0" font-weight="bold" text-anchor="start" textLength="128.2" lengthAdjust="spacingAndGlyphs" fill="#fff" stroke="#fff" stroke-width="0.70" stroke-linejoin="round" >390.075</text>
<rect x="1066.0" y="543.5" width="140.0" height="45.3" rx="12" ry="12" fill="#c0852c" fill-opacity="1.00" stroke="#fffaf2" stroke-width="2"/>
<text x="1073.5" y="578.0" font-size="34.0" font-weight="bold" text-anchor="start" textLength="128.0" lengthAdjust="spacingAndGlyphs" fill="#fff" stroke="#fff" stroke-width="0.70" stroke-linejoin="round" >162.479</text>
<rect x="1437.8" y="589.3" width="146.2" height="46.3" rx="12" ry="12" fill="#c0852c" fill-opacity="1.00" stroke="#fffaf2" stroke-width="2"/>
<text x="1451.0" y="624.4" font-size="34.0" font-weight="bold" text-anchor="start" textLength="127.2" lengthAdjust="spacingAndGlyphs" fill="#fff" stroke="#fff" stroke-width="0.70" stroke-linejoin="round" >104.523</text>
<rect x="1480.0" y="701.8" width="101.1" height="46.6" rx="12" ry="12" fill="#8c1c1d" fill-opacity="1.00" stroke="#fffaf2" stroke-width="2"/>
<text x="1486.7" y="736.5" font-size="34.0" font-weight="bold" text-anchor="start" textLength="88.9" lengthAdjust="spacingAndGlyphs" fill="#fff" stroke="#fff" stroke-width="0.70" stroke-linejoin="round" >9.258</text>
<text x="163.8" y="813.0" font-size="32.0" font-weight="normal" text-anchor="start" textLength="34.3" lengthAdjust="spacingAndGlyphs" fill="#141414" stroke="#141414" stroke-width="0.50" stroke-linejoin="round" >10</text>
<text x="256.0" y="813.0" font-size="32.0" font-weight="normal" text-anchor="start" textLength="32.8" lengthAdjust="spacingAndGlyphs" fill="#141414" stroke="#141414" stroke-width="0.50" stroke-linejoin="round" >20</text>
<text x="334.7" y="813.0" font-size="32.0" font-weight="normal" text-anchor="start" textLength="34.3" lengthAdjust="spacingAndGlyphs" fill="#141414" stroke="#141414" stroke-width="0.50" stroke-linejoin="round" >30</text>
<text x="412.8" y="813.0" font-size="32.0" font-weight="normal" text-anchor="start" textLength="35.2" lengthAdjust="spacingAndGlyphs" fill="#141414" stroke="#141414" stroke-width="0.50" stroke-linejoin="round" >10</text>
<text x="503.4" y="813.0" font-size="32.0" font-weight="normal" text-anchor="start" textLength="34.4" lengthAdjust="spacingAndGlyphs" fill="#141414" stroke="#141414" stroke-width="0.50" stroke-linejoin="round" >20</text>
<text x="578.4" y="813.0" font-size="32.0" font-weight="normal" text-anchor="start" textLength="34.4" lengthAdjust="spacingAndGlyphs" fill="#141414" stroke="#141414" stroke-width="0.50" stroke-linejoin="round" >30</text>
<text x="670.6" y="813.0" font-size="32.0" font-weight="normal" text-anchor="start" textLength="33.8" lengthAdjust="spacingAndGlyphs" fill="#141414" stroke="#141414" stroke-width="0.50" stroke-linejoin="round" >10</text>
<text x="755.0" y="813.0" font-size="32.0" font-weight="normal" text-anchor="start" textLength="33.8" lengthAdjust="spacingAndGlyphs" fill="#141414" stroke="#141414" stroke-width="0.50" stroke-linejoin="round" >20</text>
<text x="821.6" y="813.0" font-size="32.0" font-weight="normal" text-anchor="start" textLength="34.0" lengthAdjust="spacingAndGlyphs" fill="#141414" stroke="#141414" stroke-width="0.50" stroke-linejoin="round" >30</text>
<text x="898.0" y="813.0" font-size="32.0" font-weight="normal" text-anchor="start" textLength="34.5" lengthAdjust="spacingAndGlyphs" fill="#141414" stroke="#141414" stroke-width="0.50" stroke-linejoin="round" >10</text>
<text x="992.5" y="813.0" font-size="32.0" font-weight="normal" text-anchor="start" textLength="33.5" lengthAdjust="spacingAndGlyphs" fill="#141414" stroke="#141414" stroke-width="0.50" stroke-linejoin="round" >20</text>
<text x="1068.0" y="813.0" font-size="32.0" font-weight="normal" text-anchor="start" textLength="33.0" lengthAdjust="spacingAndGlyphs" fill="#141414" stroke="#141414" stroke-width="0.50" stroke-linejoin="round" >30</text>
<text x="1180.6" y="813.0" font-size="32.0" font-weight="normal" text-anchor="start" textLength="34.4" lengthAdjust="spacingAndGlyphs" fill="#141414" stroke="#141414" stroke-width="0.50" stroke-linejoin="round" >10</text>
<text x="1266.0" y="813.0" font-size="32.0" font-weight="normal" text-anchor="start" textLength="33.7" lengthAdjust="spacingAndGlyphs" fill="#141414" stroke="#141414" stroke-width="0.50" stroke-linejoin="round" >20</text>
<text x="1385.6" y="813.0" font-size="32.0" font-weight="normal" text-anchor="start" textLength="33.4" lengthAdjust="spacingAndGlyphs" fill="#141414" stroke="#141414" stroke-width="0.50" stroke-linejoin="round" >10</text>
<text x="1508.0" y="813.0" font-size="32.0" font-weight="bold" text-anchor="start" textLength="36.0" lengthAdjust="spacingAndGlyphs" fill="#141414" stroke="#141414" stroke-width="0.80" stroke-linejoin="round" >27</text>
<rect x="140.0" y="826.6" width="222.8" height="49" fill="#d7c4b4"/>
<rect x="595.0" y="826.6" width="253.0" height="49" fill="#d7c4b4"/>
<rect x="1095.0" y="826.6" width="224.7" height="49" fill="#d7c4b4"/>
<text x="216.0" y="865.6" font-size="37.0" font-weight="bold" text-anchor="start" textLength="71.0" lengthAdjust="spacingAndGlyphs" fill="#1d1d1d" stroke="#1d1d1d" stroke-width="1.00" stroke-linejoin="round" >OCT</text>
<text x="448.0" y="865.6" font-size="37.0" font-weight="bold" text-anchor="start" textLength="73.0" lengthAdjust="spacingAndGlyphs" fill="#1d1d1d" stroke="#1d1d1d" stroke-width="1.00" stroke-linejoin="round" >NOV</text>
<text x="687.8" y="865.6" font-size="37.0" font-weight="bold" text-anchor="start" textLength="68.8" lengthAdjust="spacingAndGlyphs" fill="#1d1d1d" stroke="#1d1d1d" stroke-width="1.00" stroke-linejoin="round" >DIC</text>
<text x="951.0" y="865.6" font-size="37.0" font-weight="bold" text-anchor="start" textLength="71.0" lengthAdjust="spacingAndGlyphs" fill="#1d1d1d" stroke="#1d1d1d" stroke-width="1.00" stroke-linejoin="round" >ENE</text>
<text x="1173.8" y="865.6" font-size="37.0" font-weight="bold" text-anchor="start" textLength="68.8" lengthAdjust="spacingAndGlyphs" fill="#1d1d1d" stroke="#1d1d1d" stroke-width="1.00" stroke-linejoin="round" >FEB</text>
<text x="1408.0" y="865.6" font-size="37.0" font-weight="bold" text-anchor="start" textLength="83.0" lengthAdjust="spacingAndGlyphs" fill="#1d1d1d" stroke="#1d1d1d" stroke-width="1.00" stroke-linejoin="round" >MAR</text>
</svg></body></html>
